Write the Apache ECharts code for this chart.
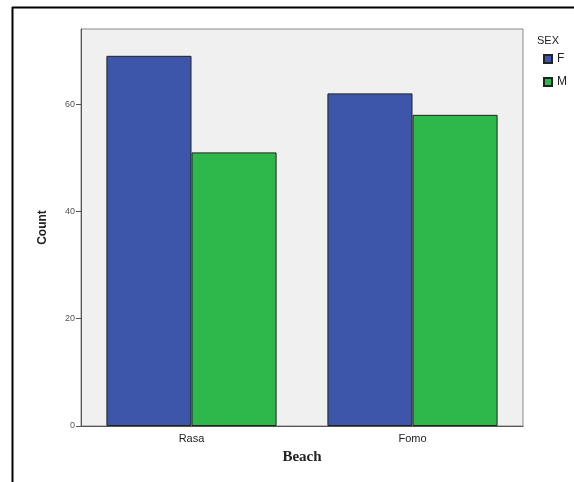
<!DOCTYPE html>
<html>
<head>
<meta charset="utf-8">
<script src="https://cdn.jsdelivr.net/npm/echarts@6/dist/echarts.min.js"></script>
<style>
html,body{margin:0;padding:0;background:#fff;}
#chart{width:574px;height:482px;}
</style>
</head>
<body>
<div id="chart"></div>
<script>
const categories = ['Rasa', 'Fomo'];
const seriesNames = ['F', 'M'];
const valuesF = [69, 62];
const valuesM = [51, 58];
const yTicks = [0, 20, 40, 60];

const chart = echarts.init(document.getElementById('chart'));
const option = {
  animation: false,
  backgroundColor: '#ffffff',
  grid: {
    left: 81, right: 51, top: 29, bottom: 56,
    show: true, backgroundColor: '#f0f0f0', borderColor: '#8a8a8a', borderWidth: 1
  },
  legend: {
    data: seriesNames,
    orient: 'vertical',
    left: 538, top: 48,
    itemWidth: 8, itemHeight: 8, itemGap: 11,
    icon: 'rect',
    textStyle: { fontFamily: 'Liberation Sans', fontSize: 12, color: '#222' }
  },
  title: {
    text: 'SEX', left: 532, top: 30,
    textStyle: { fontFamily: 'Liberation Sans', fontSize: 11, fontWeight: 'normal', color: '#222' }
  },
  xAxis: {
    type: 'category',
    data: categories,
    name: 'Beach',
    nameLocation: 'middle',
    nameGap: 24,
    nameTextStyle: { fontFamily: 'Liberation Serif', fontWeight: 'bold', fontSize: 15, color: '#222' },
    axisLine: { lineStyle: { color: '#555', width: 1 } },
    axisTick: { alignWithLabel: true, length: 4, lineStyle: { color: '#555' } },
    axisLabel: { fontFamily: 'Liberation Sans', fontSize: 11, color: '#222', margin: 7 }
  },
  yAxis: {
    type: 'value',
    min: 0, max: 74, interval: 20,
    name: 'Count',
    nameLocation: 'middle',
    nameGap: 32,
    nameRotate: 90,
    nameTextStyle: { fontFamily: 'Liberation Sans', fontWeight: 'bold', fontSize: 12, color: '#222' },
    axisLine: { show: true, lineStyle: { color: '#555', width: 1 } },
    axisTick: { show: true, length: 5, lineStyle: { color: '#555' } },
    axisLabel: {
      fontFamily: 'Liberation Sans', fontSize: 9, color: '#555', margin: 6,
      showMaxLabel: false,
      formatter: v => yTicks.includes(v) ? String(v) : ''
    },
    splitLine: { show: false }
  },
  series: [
    {
      name: 'F', type: 'bar', data: valuesF,
      barCategoryGap: '23%', barGap: '0%',
      itemStyle: { color: '#3d56a9', borderColor: '#222', borderWidth: 1 }
    },
    {
      name: 'M', type: 'bar', data: valuesM,
      barCategoryGap: '23%', barGap: '0%',
      itemStyle: { color: '#2eb84b', borderColor: '#222', borderWidth: 1 }
    }
  ],
  graphic: [
    { type: 'line', shape: { x1: 12, y1: 7.5, x2: 574, y2: 7.5 }, style: { stroke: '#000', lineWidth: 2 } },
    { type: 'line', shape: { x1: 12.5, y1: 7, x2: 12.5, y2: 482 }, style: { stroke: '#000', lineWidth: 2 } }
  ]
};
chart.setOption(option);
</script>
</body>
</html>
